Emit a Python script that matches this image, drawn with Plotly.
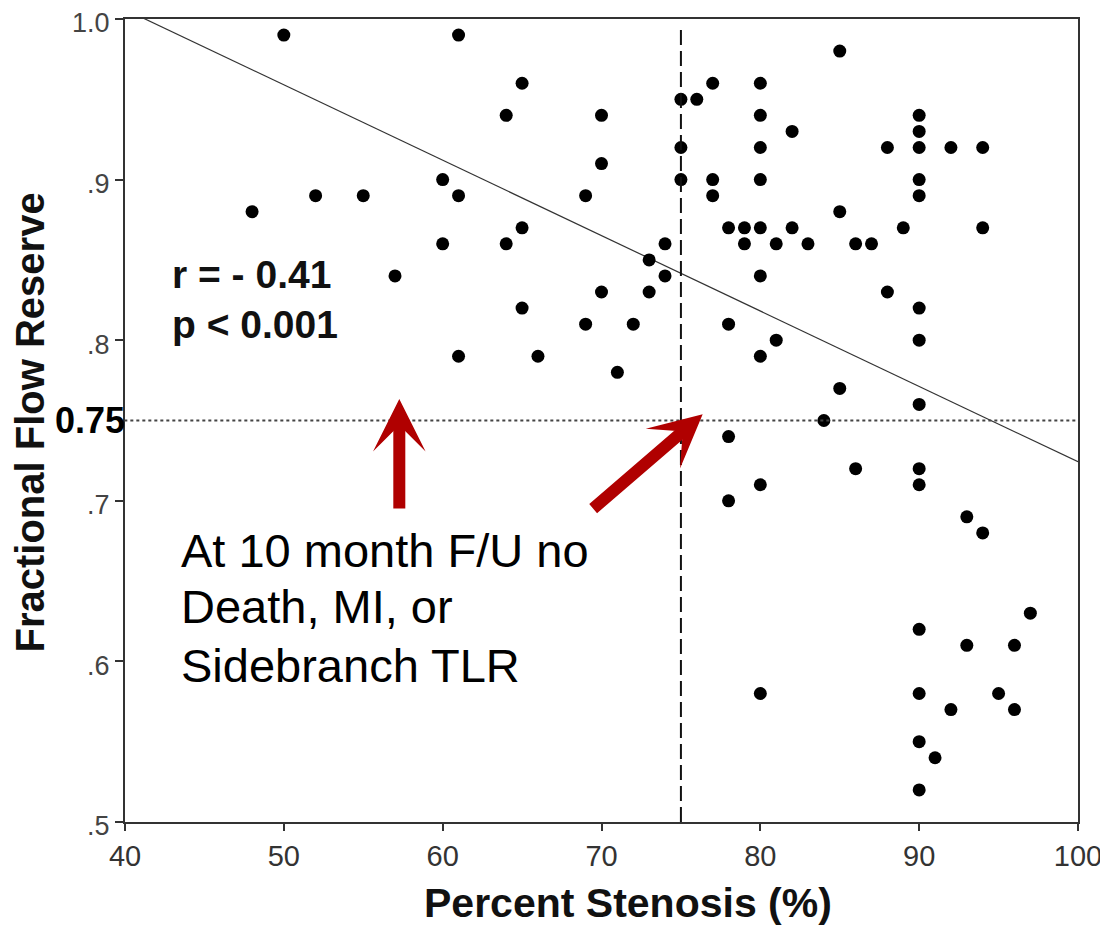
import plotly.graph_objects as go

# Percent stenosis (%) and FFR values
stenosis = [50, 61, 48, 52, 55, 57, 60, 60, 61, 61, 64, 64, 65, 65, 65, 66,
            69, 69, 70, 70, 70, 71, 72, 73, 73, 74, 74, 75, 75, 75, 76, 77,
            77, 77, 78, 78, 78, 78, 79, 79, 80, 80, 80, 80, 80, 80, 80, 80,
            80, 81, 81, 82, 82, 83, 84, 85, 85, 85, 86, 86, 87, 88, 88, 89,
            90, 90, 90, 90, 90, 90, 90, 90, 90, 90, 90, 90, 90, 90, 91, 92,
            92, 93, 93, 94, 94, 94, 95, 96, 96, 97]
ffr = [0.99, 0.99, 0.88, 0.89, 0.89, 0.84, 0.90, 0.86, 0.89, 0.79, 0.94, 0.86,
       0.96, 0.87, 0.82, 0.79, 0.89, 0.81, 0.94, 0.91, 0.83, 0.78, 0.81, 0.85,
       0.83, 0.86, 0.84, 0.95, 0.92, 0.90, 0.95, 0.96, 0.90, 0.89, 0.87, 0.81,
       0.74, 0.70, 0.87, 0.86, 0.96, 0.94, 0.92, 0.90, 0.87, 0.84, 0.79, 0.71,
       0.58, 0.86, 0.80, 0.93, 0.87, 0.86, 0.75, 0.98, 0.88, 0.77, 0.86, 0.72,
       0.86, 0.92, 0.83, 0.87, 0.94, 0.93, 0.92, 0.90, 0.89, 0.82, 0.80, 0.76,
       0.72, 0.71, 0.62, 0.58, 0.55, 0.52, 0.54, 0.92, 0.57, 0.69, 0.61, 0.92,
       0.87, 0.68, 0.58, 0.61, 0.57, 0.63]

# Regression line: ffr = intercept + slope * stenosis
fit_intercept = 1.1937
fit_slope = -0.004694
fit_x = [40, 100]

ffr_cutoff = 0.75
stenosis_cutoff = 75

x_ticks = [40, 50, 60, 70, 80, 90, 100]
x_tick_labels = ["40", "50", "60", "70", "80", "90", "100"]
y_ticks = [0.5, 0.6, 0.7, 0.8, 0.9, 1.0]
y_tick_labels = [".5", ".6", ".7", ".8", ".9", "1.0"]

stats_lines = ["r = - 0.41", "p < 0.001"]
stats_y = [0.841, 0.8095]
note_lines = ["At 10 month F/U no", "Death, MI, or", "Sidebranch TLR"]
note_y = [0.6689, 0.6340, 0.5973]

# arrows: tip and tail positions in data units
arrow_tips_x = [57.27, 76.37]
arrow_tips_y = [0.7634, 0.7539]
arrow_tails_x = [57.27, 69.38]
arrow_tails_y = [0.6943, 0.6943]

FONT = "Liberation Sans, Arial, sans-serif"

fig = go.Figure()

fig.add_trace(go.Scatter(
    x=fit_x, y=[fit_intercept + fit_slope * v for v in fit_x],
    mode="lines", line=dict(color="#333333", width=1.2),
    showlegend=False, hoverinfo="skip"))

fig.add_trace(go.Scatter(
    x=stenosis, y=ffr, mode="markers",
    marker=dict(color="black", size=13, line=dict(width=0)),
    showlegend=False, cliponaxis=False))

# cutoff lines
fig.add_shape(type="line", xref="paper", yref="y", x0=-0.007, x1=1,
              y0=ffr_cutoff, y1=ffr_cutoff,
              line=dict(color="#444444", width=2, dash="dot"))
fig.add_shape(type="line", xref="x", yref="y", x0=stenosis_cutoff, x1=stenosis_cutoff,
              y0=0.5, y1=0.994,
              line=dict(color="#111111", width=2, dash="15px,6px"))

annotations = []
for txt, yy in zip(stats_lines, stats_y):
    annotations.append(dict(
        x=42.83, y=yy, xref="x", yref="y", text="<b>" + txt + "</b>",
        showarrow=False, xanchor="left", yanchor="middle",
        font=dict(family=FONT, size=39, color="#111")))
for txt, yy in zip(note_lines, note_y):
    annotations.append(dict(
        x=43.4, y=yy, xref="x", yref="y", text=txt,
        showarrow=False, xanchor="left", yanchor="middle",
        font=dict(family=FONT, size=47, color="#000")))
annotations.append(dict(
    x=0, y=ffr_cutoff, xref="paper", yref="y", xanchor="right", yanchor="middle",
    xshift=2, text="<b>0.75</b>", showarrow=False,
    font=dict(family=FONT, size=36, color="#000")))
# axis titles
annotations.append(dict(
    x=0.528, y=-0.1010, xref="paper", yref="paper", xanchor="center", yanchor="middle",
    text="<b>Percent Stenosis (%)</b>", showarrow=False,
    font=dict(family=FONT, size=41, color="#111")))
annotations.append(dict(
    x=-0.0997, y=0.4975, xref="paper", yref="paper", xanchor="center", yanchor="middle",
    text="<b>Fractional Flow Reserve</b>", showarrow=False, textangle=-90,
    font=dict(family=FONT, size=40, color="#111")))
for tx, ty, ax, ay in zip(arrow_tips_x, arrow_tips_y, arrow_tails_x, arrow_tails_y):
    annotations.append(dict(
        x=tx, y=ty, ax=ax, ay=ay, xref="x", yref="y", axref="x", ayref="y",
        text="", showarrow=True, arrowhead=3, arrowsize=0.73, arrowwidth=12,
        arrowcolor="#B00000"))

# the page body adds an 8px offset, so the figure is 8px smaller than the window
fig.update_layout(
    width=1100, height=921,
    margin=dict(l=117, r=30, t=11, b=107),
    paper_bgcolor="white", plot_bgcolor="white",
    annotations=annotations,
    xaxis=dict(
        range=[40, 100], tickmode="array", tickvals=x_ticks, ticktext=x_tick_labels,
        ticks="outside", ticklen=7, tickwidth=2, tickcolor="#333",
        showline=True, linecolor="#333", linewidth=2, mirror=True,
        showgrid=False, zeroline=False, automargin=False,
        ticklabeloverflow="allow",
        tickfont=dict(family=FONT, size=29, color="#333"),
    ),
    yaxis=dict(
        range=[0.5, 1.0], tickmode="array", tickvals=y_ticks, ticktext=y_tick_labels,
        ticks="outside", ticklen=8, tickwidth=2, tickcolor="#333",
        showline=True, linecolor="#333", linewidth=2, mirror=True,
        showgrid=False, zeroline=False, automargin=False,
        ticklabeloverflow="allow", ticklabelshift=4,
        tickfont=dict(family=FONT, size=27, color="#444"),
    ),
)

fig.write_html("out.html")
